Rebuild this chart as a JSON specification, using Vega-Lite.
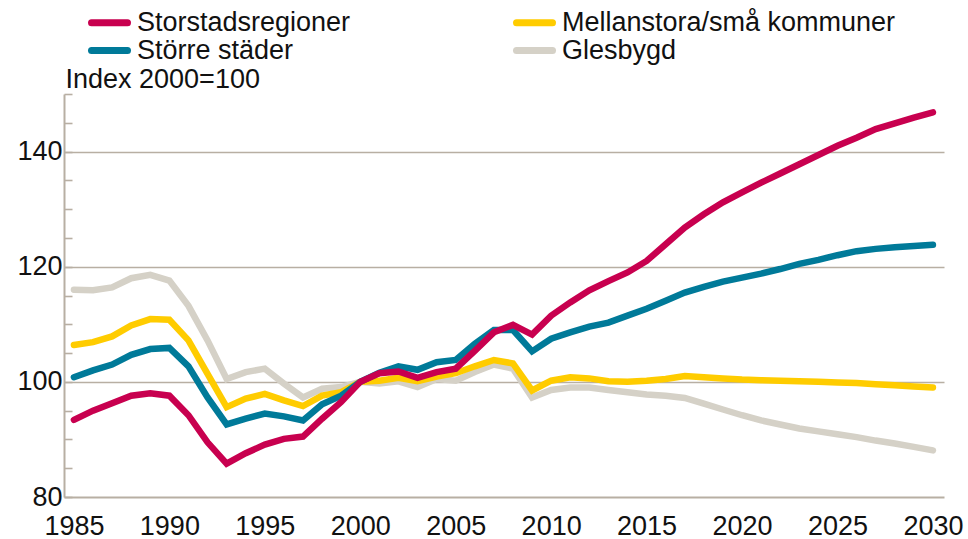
{
  "$schema": "https://vega.github.io/schema/vega-lite/v6.json",
  "width": 880,
  "height": 403,
  "autosize": {"type": "none"},
  "padding": {"left": 64, "top": 94, "right": 24, "bottom": 42},
  "background": "white",
  "config": {
    "view": {"stroke": null},
    "font": "Liberation Sans",
    "text": {"font": "Liberation Sans"}
  },
  "data": {
    "values": [
      {"year": 1985, "Glesbygd": 116.0, "Mellanstora/små kommuner": 106.4, "Större städer": 100.8, "Storstadsregioner": 93.4},
      {"year": 1986, "Glesbygd": 115.9, "Mellanstora/små kommuner": 106.9, "Större städer": 102.0, "Storstadsregioner": 95.0},
      {"year": 1987, "Glesbygd": 116.4, "Mellanstora/små kommuner": 107.9, "Större städer": 103.0, "Storstadsregioner": 96.3},
      {"year": 1988, "Glesbygd": 118.0, "Mellanstora/små kommuner": 109.8, "Större städer": 104.7, "Storstadsregioner": 97.6},
      {"year": 1989, "Glesbygd": 118.6, "Mellanstora/små kommuner": 110.9, "Större städer": 105.7, "Storstadsregioner": 98.0},
      {"year": 1990, "Glesbygd": 117.6, "Mellanstora/små kommuner": 110.8, "Större städer": 105.9, "Storstadsregioner": 97.6},
      {"year": 1991, "Glesbygd": 113.2, "Mellanstora/små kommuner": 107.2, "Större städer": 102.7, "Storstadsregioner": 94.2},
      {"year": 1992, "Glesbygd": 107.2, "Mellanstora/små kommuner": 101.4, "Större städer": 97.3, "Storstadsregioner": 89.5},
      {"year": 1993, "Glesbygd": 100.5, "Mellanstora/små kommuner": 95.6, "Större städer": 92.6, "Storstadsregioner": 85.8},
      {"year": 1994, "Glesbygd": 101.7, "Mellanstora/små kommuner": 97.1, "Större städer": 93.6, "Storstadsregioner": 87.6},
      {"year": 1995, "Glesbygd": 102.3, "Mellanstora/små kommuner": 97.9, "Större städer": 94.5, "Storstadsregioner": 89.1},
      {"year": 1996, "Glesbygd": 99.7, "Mellanstora/små kommuner": 96.8, "Större städer": 94.0, "Storstadsregioner": 90.1},
      {"year": 1997, "Glesbygd": 97.3, "Mellanstora/små kommuner": 95.8, "Större städer": 93.3, "Storstadsregioner": 90.5},
      {"year": 1998, "Glesbygd": 98.8, "Mellanstora/små kommuner": 97.6, "Större städer": 96.1, "Storstadsregioner": 93.6},
      {"year": 1999, "Glesbygd": 99.1, "Mellanstora/små kommuner": 98.2, "Större städer": 97.6, "Storstadsregioner": 96.5},
      {"year": 2000, "Glesbygd": 100.0, "Mellanstora/små kommuner": 100.0, "Större städer": 100.0, "Storstadsregioner": 100.0},
      {"year": 2001, "Glesbygd": 99.7, "Mellanstora/små kommuner": 100.2, "Större städer": 101.6, "Storstadsregioner": 101.5},
      {"year": 2002, "Glesbygd": 100.1, "Mellanstora/små kommuner": 100.7, "Större städer": 102.7, "Storstadsregioner": 101.8},
      {"year": 2003, "Glesbygd": 99.1, "Mellanstora/små kommuner": 100.1, "Större städer": 102.1, "Storstadsregioner": 100.7},
      {"year": 2004, "Glesbygd": 100.5, "Mellanstora/små kommuner": 100.9, "Större städer": 103.4, "Storstadsregioner": 101.7},
      {"year": 2005, "Glesbygd": 100.2, "Mellanstora/små kommuner": 101.5, "Större städer": 103.8, "Storstadsregioner": 102.3},
      {"year": 2006, "Glesbygd": 101.7, "Mellanstora/små kommuner": 102.7, "Större städer": 106.6, "Storstadsregioner": 105.4},
      {"year": 2007, "Glesbygd": 103.0, "Mellanstora/små kommuner": 103.8, "Större städer": 109.0, "Storstadsregioner": 108.6},
      {"year": 2008, "Glesbygd": 102.3, "Mellanstora/små kommuner": 103.2, "Större städer": 109.0, "Storstadsregioner": 109.9},
      {"year": 2009, "Glesbygd": 97.3, "Mellanstora/små kommuner": 98.5, "Större städer": 105.3, "Storstadsregioner": 108.2},
      {"year": 2010, "Glesbygd": 98.6, "Mellanstora/små kommuner": 100.2, "Större städer": 107.5, "Storstadsregioner": 111.5},
      {"year": 2011, "Glesbygd": 99.0, "Mellanstora/små kommuner": 100.8, "Större städer": 108.6, "Storstadsregioner": 113.8},
      {"year": 2012, "Glesbygd": 99.0, "Mellanstora/små kommuner": 100.6, "Större städer": 109.6, "Storstadsregioner": 115.9},
      {"year": 2013, "Glesbygd": 98.6, "Mellanstora/små kommuner": 100.1, "Större städer": 110.3, "Storstadsregioner": 117.5},
      {"year": 2014, "Glesbygd": 98.2, "Mellanstora/små kommuner": 100.0, "Större städer": 111.5, "Storstadsregioner": 119.0},
      {"year": 2015, "Glesbygd": 97.8, "Mellanstora/små kommuner": 100.2, "Större städer": 112.7, "Storstadsregioner": 121.0},
      {"year": 2016, "Glesbygd": 97.6, "Mellanstora/små kommuner": 100.5, "Större städer": 114.1, "Storstadsregioner": 123.9},
      {"year": 2017, "Glesbygd": 97.2, "Mellanstora/små kommuner": 101.0, "Större städer": 115.5, "Storstadsregioner": 126.8},
      {"year": 2018, "Glesbygd": 96.2, "Mellanstora/små kommuner": 100.8, "Större städer": 116.5, "Storstadsregioner": 129.1},
      {"year": 2019, "Glesbygd": 95.2, "Mellanstora/små kommuner": 100.6, "Större städer": 117.4, "Storstadsregioner": 131.2},
      {"year": 2020, "Glesbygd": 94.2, "Mellanstora/små kommuner": 100.4, "Större städer": 118.1, "Storstadsregioner": 132.9},
      {"year": 2021, "Glesbygd": 93.3, "Mellanstora/små kommuner": 100.3, "Större städer": 118.8, "Storstadsregioner": 134.6},
      {"year": 2022, "Glesbygd": 92.6, "Mellanstora/små kommuner": 100.2, "Större städer": 119.6, "Storstadsregioner": 136.2},
      {"year": 2023, "Glesbygd": 91.9, "Mellanstora/små kommuner": 100.1, "Större städer": 120.5, "Storstadsregioner": 137.8},
      {"year": 2024, "Glesbygd": 91.4, "Mellanstora/små kommuner": 100.0, "Större städer": 121.2, "Storstadsregioner": 139.4},
      {"year": 2025, "Glesbygd": 90.9, "Mellanstora/små kommuner": 99.9, "Större städer": 122.0, "Storstadsregioner": 141.0},
      {"year": 2026, "Glesbygd": 90.4, "Mellanstora/små kommuner": 99.8, "Större städer": 122.7, "Storstadsregioner": 142.4},
      {"year": 2027, "Glesbygd": 89.8, "Mellanstora/små kommuner": 99.6, "Större städer": 123.1, "Storstadsregioner": 143.9},
      {"year": 2028, "Glesbygd": 89.3, "Mellanstora/små kommuner": 99.4, "Större städer": 123.4, "Storstadsregioner": 144.9},
      {"year": 2029, "Glesbygd": 88.7, "Mellanstora/små kommuner": 99.2, "Större städer": 123.6, "Storstadsregioner": 145.9},
      {"year": 2030, "Glesbygd": 88.1, "Mellanstora/små kommuner": 99.0, "Större städer": 123.8, "Storstadsregioner": 146.8}
    ]
  },
  "transform": [
    {"fold": ["Glesbygd", "Mellanstora/små kommuner", "Större städer", "Storstadsregioner"], "as": ["region", "value"]}
  ],
  "mark": {"type": "line", "strokeWidth": 6.5, "strokeCap": "round", "clip": false},
  "encoding": {
    "x": {
      "field": "year",
      "type": "quantitative",
      "scale": {"domain": [1984.48, 2030.58], "nice": false, "zero": false},
      "axis": {
        "title": null,
        "values": [1985, 1990, 1995, 2000, 2005, 2010, 2015, 2020, 2025, 2030],
        "format": "d",
        "grid": false,
        "ticks": false,
        "domainColor": "#B8AFA3",
        "domainWidth": 2,
        "labelFont": "Liberation Sans",
        "labelFontSize": 27,
        "labelColor": "#111111",
        "labelPadding": 16,
        "labelFlush": false,
        "labelOverlap": false
      }
    },
    "y": {
      "field": "value",
      "type": "quantitative",
      "scale": {"domain": [80, 150], "nice": false, "zero": false},
      "axis": {
        "title": "Index 2000=100",
        "titleAngle": 0,
        "titleAlign": "left",
        "titleBaseline": "alphabetic",
        "titleX": 1,
        "titleY": -7,
        "titleFont": "Liberation Sans",
        "titleFontSize": 27,
        "titleFontWeight": "normal",
        "titleColor": "#111111",
        "values": [80, 85, 90, 95, 100, 105, 110, 115, 120, 125, 130, 135, 140, 145, 150],
        "labelExpr": "datum.value % 20 === 0 ? datum.label : ''",
        "grid": true,
        "gridColor": "#B8AFA3",
        "gridWidth": 1.6,
        "gridOpacity": {"condition": {"test": "datum.value % 20 === 0 && datum.value > 80", "value": 1}, "value": 0},
        "ticks": true,
        "tickSize": -8,
        "tickColor": "#B8AFA3",
        "tickWidth": 1.6,
        "domainColor": "#B8AFA3",
        "domainWidth": 2,
        "labelFont": "Liberation Sans",
        "labelFontSize": 27,
        "labelColor": "#111111",
        "labelPadding": 10,
        "labelBaseline": "middle"
      }
    },
    "color": {
      "field": "region",
      "type": "nominal",
      "scale": {
        "domain": ["Storstadsregioner", "Mellanstora/små kommuner", "Större städer", "Glesbygd"],
        "range": ["#C8004F", "#FFCC00", "#007A99", "#D5D1C7"]
      },
      "legend": {
        "title": null,
        "orient": "none",
        "legendX": 32,
        "legendY": -85,
        "direction": "horizontal",
        "columns": 2,
        "columnPadding": 151,
        "rowPadding": -3,
        "symbolType": "M-3,0H3",
        "symbolSize": 144,
        "symbolStrokeWidth": 7,
        "labelFont": "Liberation Sans",
        "labelFontSize": 27,
        "labelColor": "#111111",
        "labelOffset": 14,
        "labelLimit": 400,
        "encode": {"symbols": {"update": {"strokeCap": {"value": "round"}}}}
      }
    }
  }
}
